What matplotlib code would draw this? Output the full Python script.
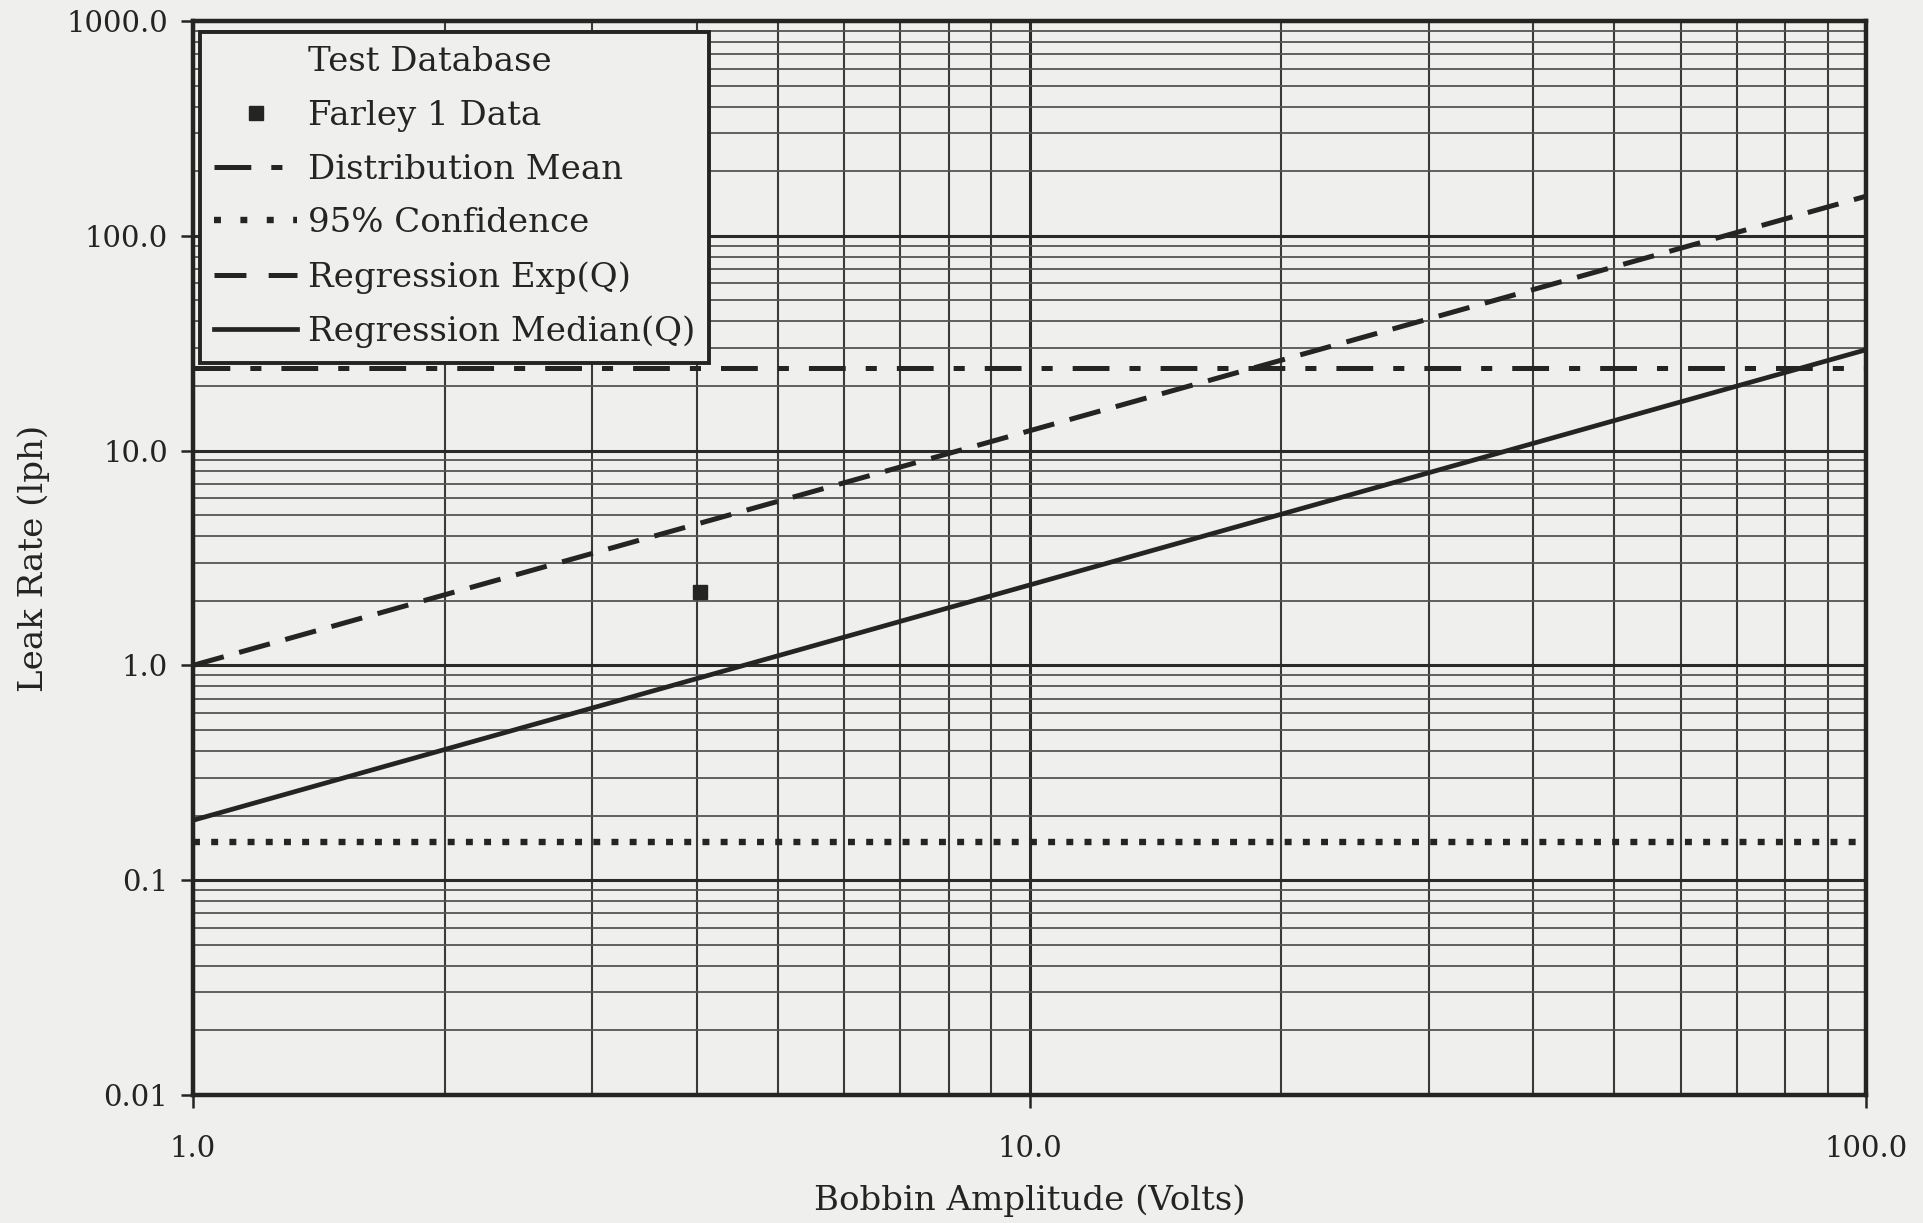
#!/usr/bin/env python3
"""Leak rate vs bobbin amplitude, log-log, Farley 1 data with regression lines."""
import numpy as np
import matplotlib
matplotlib.use("Agg")
import matplotlib.pyplot as plt
from matplotlib import rcParams
from matplotlib.lines import Line2D
from matplotlib.ticker import LogLocator, NullFormatter

rcParams["font.family"] = "serif"
rcParams["font.serif"] = ["DejaVu Serif", "Liberation Serif"]
rcParams["lines.scale_dashes"] = False   # dash lengths in points

# ---- data ------------------------------------------------------------------
farley_x = [4.04]
farley_y = [2.19]

exp_x = [1.0, 100.0]          # Regression Exp(Q)
exp_y = [1.0, 153.0]

median_x = [1.0, 100.0]       # Regression Median(Q)
median_y = [0.19, 29.5]

mean_level = 24.2             # Distribution Mean
conf_level = 0.15             # 95% Confidence

x_ticks = [1.0, 10.0, 100.0]
x_labels = ["1.0", "10.0", "100.0"]
y_ticks = [0.01, 0.1, 1.0, 10.0, 100.0, 1000.0]
y_labels = ["0.01", "0.1", "1.0", "10.0", "100.0", "1000.0"]

BG = "#efefed"
INK = "#242424"
FS = 21        # tick labels
FS_LAB = 24.5  # axis labels and legend

# line styles (points)
DASH_EXP = (0, (23, 11.5))
DASH_MEAN = (0, (26.5, 14.4, 8, 14.4))
DASH_CONF = (0, (5, 8.1))

fig = plt.figure(figsize=(19.24, 12.23), dpi=100, facecolor=BG)
ax = fig.add_axes([0.1003, 0.1047, 0.8697, 0.8781], facecolor=BG)
ax.set_xscale("log")
ax.set_yscale("log")
ax.set_xlim(1.0, 100.0)
ax.set_ylim(0.01, 1000.0)

# grid
ax.xaxis.set_minor_locator(LogLocator(base=10, subs=np.arange(2, 10), numticks=50))
ax.yaxis.set_minor_locator(LogLocator(base=10, subs=np.arange(2, 10), numticks=50))
ax.xaxis.set_minor_formatter(NullFormatter())
ax.yaxis.set_minor_formatter(NullFormatter())
ax.grid(which="major", axis="both", color="#2a2a2a", linewidth=2.2)
ax.grid(which="minor", axis="x", color="#3a3a3a", linewidth=1.5)
ax.grid(which="minor", axis="y", color="#555555", linewidth=1.3)
ax.set_axisbelow(True)

# series
ax.plot([1.0, 100.0], [mean_level, mean_level], color=INK, linewidth=3.6,
        linestyle=DASH_MEAN, label="Distribution Mean", zorder=3)
ax.plot([1.0, 100.0], [conf_level, conf_level], color=INK, linewidth=4.6,
        linestyle=DASH_CONF, label="95% Confidence", zorder=3)
ax.plot(exp_x, exp_y, color=INK, linewidth=3.6, linestyle=DASH_EXP,
        label="Regression Exp(Q)", zorder=3)
ax.plot(median_x, median_y, color=INK, linewidth=3.4, linestyle="-",
        label="Regression Median(Q)", zorder=3)
ax.plot(farley_x, farley_y, linestyle="none", marker="s", markersize=10,
        color=INK, zorder=4)

# ticks
ax.set_xticks(x_ticks)
ax.set_xticklabels(x_labels)
ax.set_yticks(y_ticks)
ax.set_yticklabels(y_labels)
ax.tick_params(which="major", direction="out", length=9, width=1.8,
               color=INK, labelsize=FS, labelcolor=INK)
ax.tick_params(axis="x", which="major", pad=20)
ax.tick_params(axis="y", which="major", pad=9)
ax.tick_params(which="minor", length=0)
for s in ax.spines.values():
    s.set_linewidth(3.2)
    s.set_color(INK)

ax.set_xlabel("Bobbin Amplitude (Volts)", fontsize=FS_LAB, color=INK, labelpad=15)
ax.set_ylabel("Leak Rate (lph)", fontsize=FS_LAB, color=INK, labelpad=12)

# legend
handles = [
    Line2D([], [], linestyle="none"),
    Line2D([], [], linestyle="none", marker="s", markersize=10, color=INK),
    Line2D([], [], color=INK, linewidth=3.6, linestyle=DASH_MEAN),
    Line2D([], [], color=INK, linewidth=4.6, linestyle=(0, (5, 14))),
    Line2D([], [], color=INK, linewidth=3.6, linestyle=(0, (23, 16))),
    Line2D([], [], color=INK, linewidth=3.4, linestyle="-"),
]
labels = ["Test Database", "Farley 1 Data", "Distribution Mean",
          "95% Confidence", "Regression Exp(Q)", "Regression Median(Q)"]
leg = ax.legend(handles, labels, loc="upper left", bbox_to_anchor=(0.004, 0.99),
                fontsize=FS_LAB, handlelength=2.45, handletextpad=0.3,
                labelspacing=0.64, borderpad=0.42, borderaxespad=0.0,
                fancybox=False, framealpha=1.0, facecolor=BG, edgecolor=INK)
leg.get_frame().set_linewidth(2.8)
for t in leg.get_texts():
    t.set_color(INK)

fig.savefig("out.png", dpi=100, facecolor=BG)
